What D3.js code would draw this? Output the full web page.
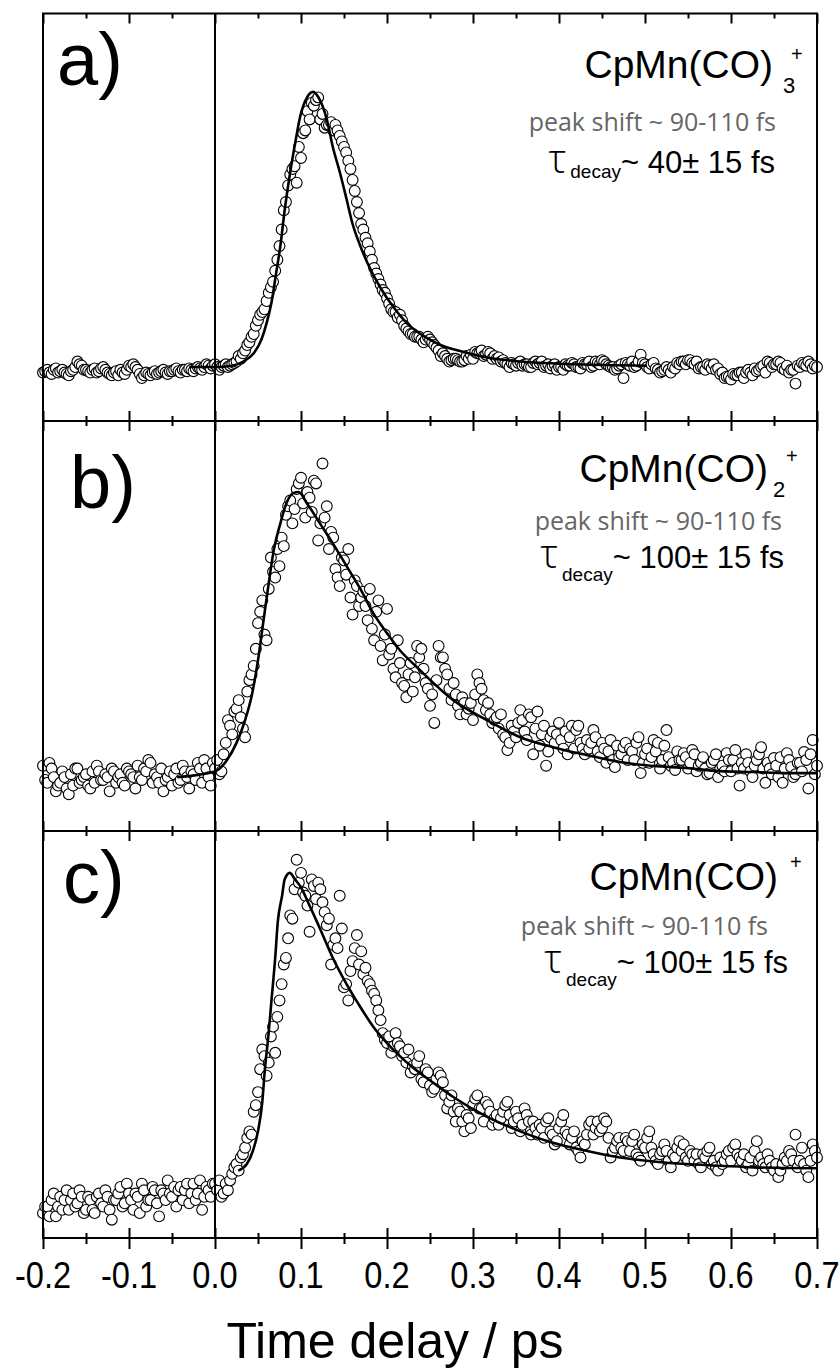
<!DOCTYPE html>
<html>
<head>
<meta charset="utf-8">
<script src="https://cdn.jsdelivr.net/npm/d3@7"></script>
<style>
  body { margin: 0; background: #fff; }
  svg { display: block; }
</style>
</head>
<body>
<svg id="chart" width="839" height="1369"></svg>
<script>
// Pump-probe delay grid (ps): first delay and stage step; the second scan of
// each channel is offset by half a step
const T0 = -0.2, DT = 0.005;

// Normalised ion signal, scan 1 (delays -0.2 ... 0.7 ps)
const signalA = [
  -0.02, -0.01, -0.025, -0.005, -0.015, -0.02, -0.03, -0.01, 0.02, 0.005,
  -0.01, -0.02, -0.005, -0.015, 0.0, -0.02, -0.03, -0.015, -0.01, -0.025,
  0.005, 0.01, -0.01, -0.04, -0.02, -0.03, -0.015, -0.02, -0.01, -0.025,
  -0.015, -0.005, -0.02, -0.01, -0.005, -0.015, 0.0, -0.01, 0.01, -0.005,
  0.01, -0.01, 0.005, 0.0, 0.01, 0.02, 0.03,
  0.06, 0.09, 0.12, 0.17, 0.20, 0.24, 0.29, 0.35, 0.44, 0.57,
  0.66, 0.72, 0.67, 0.76, 0.86, 0.90, 0.95, 0.98, 0.92, 0.88,
  0.89, 0.88, 0.84, 0.80, 0.75, 0.68, 0.60, 0.52, 0.47, 0.42,
  0.36, 0.32, 0.28, 0.25, 0.21, 0.20, 0.19, 0.15, 0.13, 0.12,
  0.11, 0.10, 0.10, 0.10, 0.08, 0.06, 0.05, 0.03, 0.025, 0.03,
  0.02, 0.025, 0.03, 0.03,
  0.05, 0.06, 0.045, 0.05, 0.04, 0.035, 0.025, 0.01, 0.015, 0.005,
  0.02, 0.01, 0.0, 0.015, 0.01, 0.02, 0.005, -0.005, 0.01, 0.0,
  -0.01, 0.005, 0.015, 0.0, -0.005, 0.01, 0.02, 0.005, 0.015, 0.025,
  0.01, 0.0, -0.01, 0.005, -0.04, 0.01, 0.02, 0.005, 0.045, 0.01,
  -0.005, 0.015, -0.01, -0.015, 0.0, -0.02, -0.005, 0.01, 0.02, 0.025,
  0.015, 0.02, 0.0, -0.01, 0.005, 0.01, -0.005, -0.02, -0.035, -0.045,
  -0.03, -0.02, -0.04, -0.01, -0.03, -0.015, 0.0, -0.02, 0.015, 0.01,
  0.02, -0.005, 0.005, -0.01, -0.06, 0.0, 0.01, 0.02, -0.005, 0.0
];
// scan 2 (delays -0.1975 ... 0.6975 ps)
const signalA2 = [
  -0.015, -0.02, -0.01, -0.02, -0.01, -0.025, -0.015, 0.0, 0.01, -0.01,
  -0.015, -0.01, -0.02, -0.005, -0.01, -0.025, -0.02, -0.03, -0.02, -0.01,
  0.0, 0.0, -0.025, -0.03, -0.025, -0.02, -0.025, -0.015, -0.02, -0.015,
  -0.01, -0.015, -0.01, -0.015, -0.01, -0.005, -0.005, 0.0, 0.005, 0.005,
  0.0, 0.0, 0.01, 0.005, 0.015, 0.04,
  0.05, 0.08, 0.11, 0.15, 0.19, 0.21, 0.27, 0.31, 0.39, 0.50,
  0.60, 0.70, 0.73, 0.80, 0.85, 0.93, 0.96, 0.97, 0.90, 0.87,
  0.88, 0.86, 0.86, 0.82, 0.78, 0.72, 0.64, 0.56, 0.50, 0.45,
  0.39, 0.34, 0.30, 0.27, 0.23, 0.20, 0.18, 0.17, 0.14, 0.12,
  0.11, 0.11, 0.09, 0.11, 0.09, 0.07, 0.04, 0.04, 0.02, 0.03,
  0.025, 0.02, 0.04, 0.045,
  0.055, 0.05, 0.04, 0.055, 0.03, 0.03, 0.02, 0.015, 0.0, 0.01,
  0.015, 0.005, 0.01, 0.0, 0.02, 0.015, 0.0, 0.01, 0.005, -0.01,
  0.0, 0.01, 0.005, 0.01, 0.0, 0.015, 0.01, 0.0, 0.02, 0.01,
  0.02, 0.005, 0.0, -0.005, 0.01, 0.015, 0.005, 0.0, 0.02, 0.015,
  0.0, 0.01, -0.005, -0.02, -0.01, -0.01, 0.0, 0.015, 0.02, 0.01,
  0.025, 0.01, -0.005, 0.0, 0.01, -0.005, -0.01, -0.025, -0.04, -0.035,
  -0.025, -0.03, -0.02, -0.02, -0.02, -0.005, -0.01, 0.005, 0.02, 0.0,
  0.01, 0.015, -0.01, -0.02, -0.01, 0.005, 0.015, 0.005, 0.01, 0.005
];

const signalB = [
  0.04, -0.02, 0.03, -0.05, -0.02, 0.0, -0.06, -0.03, 0.03, -0.01,
  0.01, -0.04, -0.02, 0.02, -0.01, 0.0, 0.03, -0.02, 0.01, -0.03,
  0.02, 0.0, 0.04, -0.01, 0.02, 0.05, 0.01, -0.02, -0.05, 0.0,
  -0.03, 0.03, -0.01, 0.02, -0.04, 0.01, 0.05, -0.02, 0.03, -0.03,
  0.03, 0.01, 0.08, 0.20, 0.15, 0.24, 0.21, 0.14, 0.34, 0.39,
  0.54, 0.62, 0.48, 0.77, 0.70, 0.74, 0.81, 0.95, 0.89, 1.01,
  1.05, 0.91, 0.98, 1.04, 0.83, 1.10, 0.95, 0.86, 0.73, 0.67,
  0.76, 0.80, 0.57, 0.67, 0.63, 0.60, 0.66, 0.48, 0.62, 0.41,
  0.59, 0.45, 0.35, 0.40, 0.32, 0.36, 0.30, 0.46, 0.45, 0.33,
  0.25, 0.19, 0.46, 0.42, 0.36, 0.27, 0.29, 0.22, 0.26, 0.24,
  0.20, 0.36, 0.31, 0.235, 0.22, 0.20, 0.17, 0.15, 0.095, 0.18,
  0.14, 0.235, 0.16, 0.22, 0.08, 0.23, 0.15, 0.04, 0.14, 0.12,
  0.19, 0.10, 0.08, 0.18, 0.165, 0.12, 0.08, 0.10, 0.165, 0.09,
  0.12, 0.05, 0.13, 0.035, 0.07, 0.105, 0.06, 0.09, 0.12, 0.014,
  0.08, 0.05, 0.13, 0.12, 0.06, 0.165, 0.04, 0.025, 0.06, 0.084,
  0.03, 0.095, 0.02, 0.05, 0.03, 0.014, 0.06, 0.0, 0.04, 0.084,
  0.02, 0.095, -0.03, 0.03, 0.05, 0.0, 0.06, 0.105, -0.02, 0.03,
  0.067, 0.0, -0.02, 0.084, 0.035, 0.01, 0.05, 0.088, -0.04, 0.13,
  0.04
];
const signalB2 = [
  -0.01, 0.05, 0.0, -0.03, 0.02, -0.04, 0.01, 0.03, -0.02, 0.0,
  -0.03, 0.02, 0.04, -0.01, 0.01, -0.05, 0.02, 0.0, -0.02, 0.03,
  0.01, -0.04, 0.0, 0.03, 0.06, -0.02, 0.0, 0.03, -0.01, 0.02,
  0.01, -0.02, 0.04, 0.0, 0.02, -0.01, 0.03, 0.06, 0.0, 0.05,
  0.06, 0.02, 0.12, 0.18, 0.23, 0.27, 0.17, 0.30, 0.36, 0.45,
  0.58, 0.50, 0.66, 0.72, 0.80, 0.84, 0.92, 0.97, 0.94, 1.03,
  0.96, 1.0, 0.93, 1.03, 0.89, 0.91, 0.80, 0.84, 0.70, 0.77,
  0.71, 0.63, 0.69, 0.60, 0.65, 0.55, 0.52, 0.58, 0.46, 0.50,
  0.43, 0.38, 0.48, 0.33, 0.28, 0.40, 0.35, 0.42, 0.38, 0.31,
  0.29, 0.34, 0.42, 0.38, 0.31, 0.33, 0.25, 0.28, 0.22, 0.26,
  0.29, 0.33, 0.27, 0.26, 0.19, 0.21, 0.22, 0.14, 0.12, 0.16,
  0.19, 0.20, 0.13, 0.21, 0.17, 0.11, 0.18, 0.09, 0.16, 0.15,
  0.13, 0.16, 0.14, 0.10, 0.18, 0.10, 0.13, 0.12, 0.14, 0.07,
  0.10, 0.09, 0.06, 0.11, 0.08, 0.12, 0.10, 0.06, 0.14, 0.05,
  0.10, 0.07, 0.09, 0.03, 0.11, 0.07, 0.05, 0.09, 0.06, 0.07,
  0.05, 0.08, 0.04, 0.07, 0.01, 0.05, 0.08, 0.03, 0.02, 0.06,
  0.06, 0.03, 0.05, 0.08, 0.02, 0.04, 0.08, 0.03, 0.05, 0.01,
  0.04, 0.07, 0.03, 0.06, 0.0, 0.05, 0.02, 0.06, 0.08, 0.01
];

const signalC = [
  -0.04, -0.02, 0.0, -0.05, 0.01, 0.0, -0.03, 0.02, -0.01, 0.01,
  -0.03, 0.0, -0.04, 0.02, -0.02, 0.01, -0.06, 0.0, 0.04, -0.01,
  0.02, -0.03, 0.01, 0.05, -0.02, 0.0, 0.03, -0.05, 0.02, 0.06,
  0.01, -0.02, 0.04, 0.03, -0.01, 0.05, 0.02, -0.03, 0.04, 0.01,
  0.05, 0.06, 0.02, 0.03, 0.08, 0.11, 0.13, 0.16, 0.21, 0.27,
  0.33, 0.46, 0.38, 0.50, 0.45, 0.61, 0.72, 0.80, 0.86, 1.04,
  1.0, 0.93, 0.82, 0.96, 0.97, 0.91, 0.84, 0.72, 0.80, 0.93,
  0.65, 0.61, 0.73, 0.81, 0.76, 0.71, 0.66, 0.63, 0.58, 0.51,
  0.48, 0.45, 0.51, 0.47, 0.45, 0.46, 0.41, 0.42, 0.37, 0.40,
  0.35, 0.34, 0.39, 0.36, 0.28, 0.32, 0.24, 0.27, 0.21, 0.25,
  0.29, 0.32, 0.28, 0.30, 0.27, 0.25, 0.23, 0.27, 0.30, 0.22,
  0.27, 0.21, 0.28, 0.24, 0.24, 0.20, 0.22, 0.24, 0.21, 0.17,
  0.22, 0.26, 0.20, 0.19, 0.16, 0.13, 0.17, 0.23, 0.20, 0.24,
  0.22, 0.24, 0.13, 0.16, 0.19, 0.15, 0.18, 0.18, 0.14, 0.12,
  0.16, 0.21, 0.14, 0.11, 0.15, 0.15, 0.10, 0.13, 0.18, 0.17,
  0.12, 0.14, 0.14, 0.10, 0.13, 0.16, 0.12, 0.09, 0.11, 0.14,
  0.12, 0.17, 0.13, 0.14, 0.11, 0.09, 0.18, 0.13, 0.10, 0.12,
  0.09, 0.07, 0.11, 0.12, 0.14, 0.20, 0.12, 0.11, 0.07, 0.17,
  0.13
];
const signalC2 = [
  -0.02, -0.05, 0.02, -0.02, -0.03, 0.03, 0.0, -0.02, 0.03, -0.04,
  0.01, -0.03, 0.01, -0.01, 0.03, -0.03, 0.0, 0.02, -0.02, 0.05,
  0.0, 0.02, -0.04, 0.03, 0.0, 0.04, -0.01, 0.03, 0.0, 0.02,
  0.04, 0.03, 0.0, 0.05, 0.02, 0.0, 0.06, 0.01, 0.03, 0.05,
  0.03, 0.01, 0.05, 0.06, 0.10, 0.09, 0.14, 0.19, 0.20, 0.29,
  0.40, 0.44, 0.42, 0.53, 0.56, 0.66, 0.74, 0.87, 0.95, 0.97,
  0.94, 0.90, 0.98, 0.92, 0.95, 0.88, 0.86, 0.78, 0.77, 0.83,
  0.66, 0.70, 0.77, 0.72, 0.69, 0.67, 0.64, 0.61, 0.55, 0.49,
  0.50, 0.47, 0.48, 0.44, 0.42, 0.39, 0.40, 0.44, 0.36, 0.39,
  0.33, 0.37, 0.38, 0.32, 0.30, 0.27, 0.28, 0.24, 0.26, 0.22,
  0.31, 0.28, 0.24, 0.29, 0.23, 0.26, 0.25, 0.29, 0.26, 0.24,
  0.25, 0.23, 0.26, 0.20, 0.22, 0.23, 0.19, 0.25, 0.20, 0.18,
  0.24, 0.21, 0.17, 0.21, 0.15, 0.18, 0.20, 0.24, 0.22, 0.21,
  0.25, 0.19, 0.15, 0.18, 0.16, 0.19, 0.15, 0.20, 0.13, 0.17,
  0.19, 0.16, 0.12, 0.14, 0.17, 0.12, 0.14, 0.16, 0.15, 0.13,
  0.15, 0.12, 0.11, 0.14, 0.15, 0.11, 0.10, 0.13, 0.12, 0.15,
  0.16, 0.14, 0.12, 0.10, 0.13, 0.15, 0.12, 0.11, 0.14, 0.10,
  0.11, 0.09, 0.13, 0.15, 0.12, 0.10, 0.16, 0.09, 0.12, 0.15
];

// Fitted model curves: [delay (ps), signal]
const fitA = [
  [-0.03, 0], [0, 0], [0.02, 0.005], [0.033, 0.02], [0.045, 0.05], [0.054, 0.10],
  [0.06, 0.16], [0.066, 0.24], [0.071, 0.34], [0.076, 0.44], [0.081, 0.57],
  [0.087, 0.70], [0.093, 0.81], [0.099, 0.91], [0.107, 0.98], [0.114, 1.0],
  [0.122, 0.97], [0.130, 0.90], [0.137, 0.80], [0.145, 0.71], [0.153, 0.61],
  [0.160, 0.52], [0.169, 0.44], [0.177, 0.38], [0.192, 0.29], [0.207, 0.22],
  [0.223, 0.16], [0.247, 0.105], [0.262, 0.08], [0.285, 0.058], [0.316, 0.035],
  [0.355, 0.02], [0.42, 0.01], [0.502, 0.005]
];
const fitB = [
  [-0.044, 0], [0, 0.02], [0.014, 0.06], [0.025, 0.12], [0.035, 0.2], [0.043, 0.29],
  [0.05, 0.41], [0.056, 0.54], [0.062, 0.67], [0.068, 0.79], [0.076, 0.89],
  [0.083, 0.96], [0.091, 0.996], [0.097, 1.0], [0.107, 0.96], [0.122, 0.89],
  [0.137, 0.82], [0.153, 0.74], [0.169, 0.66], [0.184, 0.575], [0.2, 0.505],
  [0.215, 0.445], [0.235, 0.385], [0.277, 0.27], [0.316, 0.2], [0.355, 0.14],
  [0.393, 0.105], [0.433, 0.077], [0.471, 0.053], [0.51, 0.039], [0.548, 0.032],
  [0.587, 0.021], [0.626, 0.018], [0.665, 0.014], [0.7, 0.014]
];
const fitC = [
  [0.027, 0.09], [0.037, 0.11], [0.044, 0.15], [0.05, 0.21], [0.055, 0.30],
  [0.058, 0.40], [0.062, 0.50], [0.066, 0.62], [0.07, 0.74], [0.073, 0.85],
  [0.078, 0.93], [0.081, 0.98], [0.087, 1.0], [0.093, 0.98], [0.099, 0.96],
  [0.11, 0.90], [0.122, 0.83], [0.137, 0.74], [0.153, 0.66], [0.169, 0.59],
  [0.184, 0.53], [0.2, 0.48], [0.215, 0.44], [0.23, 0.405], [0.253, 0.36],
  [0.277, 0.315], [0.316, 0.255], [0.355, 0.21], [0.393, 0.175], [0.433, 0.15],
  [0.471, 0.13], [0.51, 0.118], [0.548, 0.11], [0.587, 0.105], [0.626, 0.10],
  [0.7, 0.097]
];

// Axis ticks and labels
const xMajorTicks = [-0.2, -0.1, 0.0, 0.1, 0.2, 0.3, 0.4, 0.5, 0.6, 0.7];
const xMinorTicks = [-0.15, -0.05, 0.05, 0.15, 0.25, 0.35, 0.45, 0.55, 0.65];
const xTickLabels = ["-0.2", "-0.1", "0.0", "0.1", "0.2", "0.3", "0.4", "0.5", "0.6", "0.7"];
const xTitle = "Time delay / ps";

// Panel annotations
const panelLetters = ["a)", "b)", "c)"];
const ionNames = ["CpMn(CO)", "CpMn(CO)", "CpMn(CO)"];
const ionSubscripts = ["3", "2", ""];
const ionCharge = "+";
const peakShiftNotes = ["peak shift ~ 90-110 fs", "peak shift ~ 90-110 fs", "peak shift ~ 90-110 fs"];
const decayTimes = ["~ 40\u00b1 15 fs", "~ 100\u00b1 15 fs", "~ 100\u00b1 15 fs"];

// ---- layout ----
const W = 839, H = 1369;
const plotLeft = 43, plotRight = 817;
const SANS = "'Liberation Sans', Arial, Helvetica, sans-serif";
const MYRIAD = "'Open Sans', 'Noto Sans', sans-serif";

const panels = [
  { top: 13.5, bottom: 421, yDomain: [-0.196, 1.285], scans: [signalA, signalA2], fit: fitA,
    letter: { x: 57, y: 85 },
    ion: { x: 773, y: 78, subX: 783, subY: 93, supX: 791, supY: 61 },
    peak: { x: 776, y: 131 }, tau: { x: 775, y: 173, subDy: 5 } },
  { top: 421, bottom: 831, yDomain: [-0.189, 1.249], scans: [signalB, signalB2], fit: fitB,
    letter: { x: 70, y: 508 },
    ion: { x: 768, y: 482, subX: 773, subY: 497, supX: 786, supY: 463 },
    peak: { x: 782, y: 530 }, tau: { x: 784, y: 568, subDy: 13 } },
  { top: 831, bottom: 1238, yDomain: [-0.116, 1.128], scans: [signalC, signalC2], fit: fitC,
    letter: { x: 63, y: 903 },
    ion: { x: 778, y: 890, subX: 784, subY: 905, supX: 790, supY: 869 },
    peak: { x: 768, y: 935 }, tau: { x: 788, y: 973, subDy: 13 } }
];

const svg = d3.select("#chart");
svg.append("rect").attr("width", W).attr("height", H).attr("fill", "#fff");

const x = d3.scaleLinear().domain([-0.2, 0.7]).range([plotLeft, plotRight]);

panels.forEach((p, i) => {
  const y = d3.scaleLinear().domain(p.yDomain).range([p.bottom, p.top]);
  const g = svg.append("g").attr("class", "panel");

  // data points from both scans, merged in delay order
  const pts = [];
  p.scans.forEach((scan, s) => scan.forEach((v, k) => pts.push([T0 + s * DT / 2 + k * DT, v])));
  pts.sort((a, b) => a[0] - b[0]);
  g.append("g").selectAll("circle").data(pts).join("circle")
    .attr("cx", d => x(d[0]))
    .attr("cy", d => y(d[1]))
    .attr("r", 5.4)
    .attr("fill", "#fff")
    .attr("stroke", "#000")
    .attr("stroke-width", 1.1);

  // fitted curve
  const line = d3.line().x(d => x(d[0])).y(d => y(d[1])).curve(d3.curveMonotoneX);
  g.append("path").datum(p.fit)
    .attr("d", line)
    .attr("fill", "none")
    .attr("stroke", "#000")
    .attr("stroke-width", 2.6)
    .attr("stroke-linejoin", "round");

  // inward ticks on top and bottom edges
  const addTicks = (axisFn, ypos, vals, len) => {
    const a = g.append("g").attr("transform", `translate(0,${ypos})`)
      .call(axisFn(x).tickValues(vals).tickSize(len).tickFormat(""));
    a.select(".domain").remove();
    a.selectAll("line").attr("stroke", "#000").attr("stroke-width", 2);
  };
  addTicks(d3.axisTop, p.top, xMajorTicks, -10);
  addTicks(d3.axisTop, p.top, xMinorTicks, -5);
  addTicks(d3.axisBottom, p.bottom, xMajorTicks, -10);
  addTicks(d3.axisBottom, p.bottom, xMinorTicks, -5);

  // frame
  g.append("rect")
    .attr("x", plotLeft).attr("y", p.top)
    .attr("width", plotRight - plotLeft).attr("height", p.bottom - p.top)
    .attr("fill", "none").attr("stroke", "#000").attr("stroke-width", 2);

  // panel letter
  g.append("text").attr("x", p.letter.x).attr("y", p.letter.y)
    .attr("font-family", SANS).attr("font-size", 74).attr("fill", "#000")
    .text(panelLetters[i]);

  // ion label with subscript / charge
  g.append("text").attr("x", p.ion.x).attr("y", p.ion.y)
    .attr("text-anchor", "end").attr("font-family", SANS).attr("font-size", 39)
    .attr("fill", "#000").text(ionNames[i]);
  if (ionSubscripts[i]) {
    g.append("text").attr("x", p.ion.subX).attr("y", p.ion.subY)
      .attr("font-family", SANS).attr("font-size", 22).attr("fill", "#000")
      .text(ionSubscripts[i]);
  }
  g.append("text").attr("x", p.ion.supX).attr("y", p.ion.supY)
    .attr("font-family", SANS).attr("font-size", 20).attr("fill", "#000")
    .text(ionCharge);

  // peak shift note
  g.append("text").attr("x", p.peak.x).attr("y", p.peak.y)
    .attr("text-anchor", "end").attr("font-family", MYRIAD).attr("font-size", 25)
    .attr("fill", "#666").text(peakShiftNotes[i]);

  // decay constant
  const t = g.append("text").attr("x", p.tau.x).attr("y", p.tau.y)
    .attr("text-anchor", "end").attr("font-family", SANS).attr("fill", "#000");
  t.append("tspan").attr("font-family", MYRIAD).attr("font-weight", 300)
    .attr("font-size", 40).text("\u03c4");
  t.append("tspan").attr("font-size", 19).attr("dx", 4).attr("dy", p.tau.subDy).text("decay");
  t.append("tspan").attr("font-size", 31).attr("dy", -p.tau.subDy).text(decayTimes[i]);
});

// time-zero marker across all panels
svg.append("line")
  .attr("x1", x(0)).attr("x2", x(0))
  .attr("y1", panels[0].top).attr("y2", panels[2].bottom)
  .attr("stroke", "#000").attr("stroke-width", 2);

// bottom axis: outward ticks and labels
const last = panels[panels.length - 1];
const outMaj = svg.append("g").attr("transform", `translate(0,${last.bottom})`)
  .call(d3.axisBottom(x).tickValues(xMajorTicks).tickSize(11).tickFormat(""));
outMaj.select(".domain").remove();
outMaj.selectAll("line").attr("stroke", "#000").attr("stroke-width", 2);
const outMin = svg.append("g").attr("transform", `translate(0,${last.bottom})`)
  .call(d3.axisBottom(x).tickValues(xMinorTicks).tickSize(6).tickFormat(""));
outMin.select(".domain").remove();
outMin.selectAll("line").attr("stroke", "#000").attr("stroke-width", 2);

svg.append("g").selectAll("text").data(xMajorTicks).join("text")
  .attr("transform", d => `translate(${x(d)},1288) scale(0.88,1)`)
  .attr("text-anchor", "middle")
  .attr("font-family", SANS).attr("font-size", 37).attr("fill", "#000")
  .text((d, k) => xTickLabels[k]);

svg.append("text").attr("x", 395).attr("y", 1358)
  .attr("text-anchor", "middle").attr("font-family", SANS).attr("font-size", 50)
  .attr("fill", "#000").text(xTitle);
</script>
</body>
</html>
